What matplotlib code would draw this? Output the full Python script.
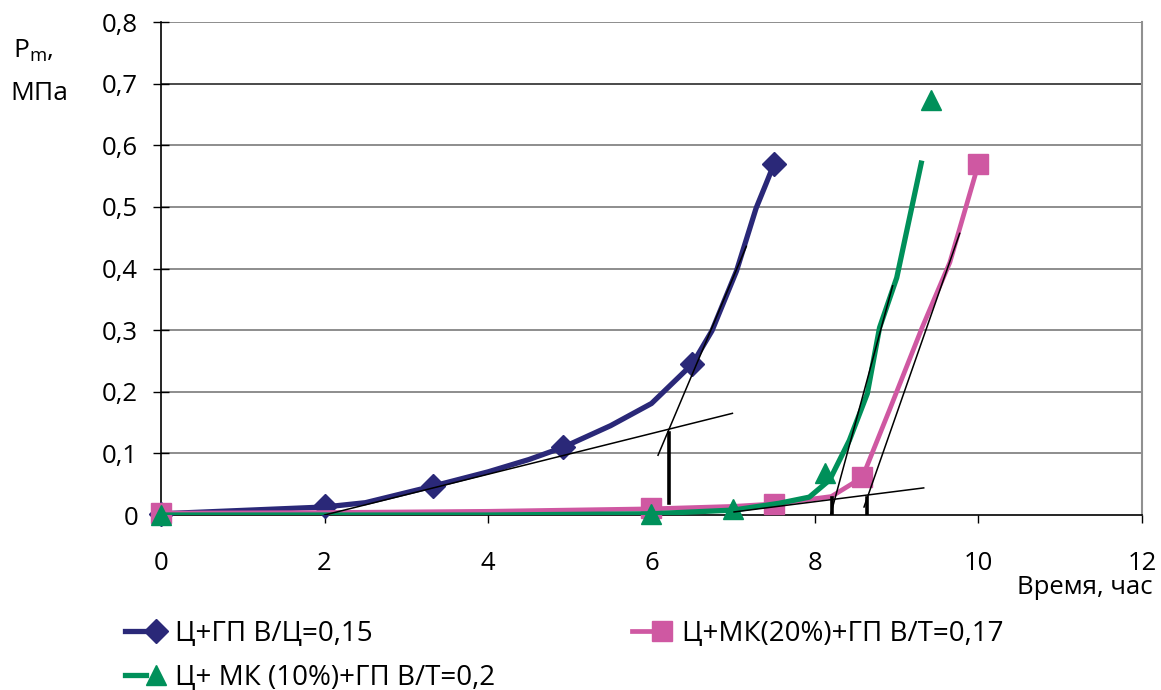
import matplotlib
matplotlib.use("Agg")
import matplotlib.pyplot as plt
from matplotlib.legend_handler import HandlerTuple

plt.rcParams['font.family'] = ['Open Sans', 'DejaVu Sans']
plt.rcParams['mathtext.fontset'] = 'custom'
plt.rcParams['mathtext.rm'] = 'Open Sans'

# Ц+ГП В/Ц=0,15
blue_x = [0, 2, 2.5, 3.33, 4, 4.5, 4.92, 5.5, 6.0, 6.5, 6.74, 7.04, 7.28, 7.4, 7.5]
blue_y = [0.002, 0.013, 0.02, 0.047, 0.07, 0.09, 0.11, 0.145, 0.181, 0.245, 0.299, 0.396, 0.498, 0.537, 0.57]
blue_mx = [0, 2, 3.33, 4.92, 6.5, 7.5]
blue_my = [0.002, 0.014, 0.047, 0.11, 0.245, 0.57]

# Ц+МК(20%)+ГП В/Т=0,17
pink_x = [0, 2, 4, 6, 7, 7.5, 8.2, 8.58, 8.91, 9.31, 9.65, 10.0]
pink_y = [0.003, 0.004, 0.006, 0.01, 0.014, 0.018, 0.03, 0.061, 0.17, 0.304, 0.41, 0.57]
pink_mx = [0, 6, 7.5, 8.57, 10]
pink_my = [0.003, 0.011, 0.018, 0.061, 0.57]

# Ц+ МК (10%)+ГП В/Т=0,2
green_x = [0, 4, 6, 7, 7.56, 7.93, 8.18, 8.42, 8.64, 8.79, 9.0, 9.3]
green_y = [0, 0, 0.002, 0.008, 0.019, 0.029, 0.057, 0.121, 0.197, 0.304, 0.385, 0.571]
green_mx = [0, 6, 7, 8.12, 9.42]
green_my = [0.0, 0.002, 0.01, 0.068, 0.674]

# касательные
tangents = [
    ([2.0, 6.99], [0.0, 0.165]),
    ([6.08, 7.16], [0.097, 0.436]),
    ([7.01, 9.33], [0.005, 0.044]),
    ([8.19, 8.95], [0.0, 0.372]),
    ([8.6, 9.77], [0.013, 0.457]),
]
marks = [(6.22, 0.02, 0.133), (8.21, 0.0, 0.028), (8.64, 0.0, 0.028)]

labels = ["Ц+ГП В/Ц=0,15", "Ц+МК(20%)+ГП В/Т=0,17", "Ц+ МК (10%)+ГП В/Т=0,2"]
c_blue, c_pink, c_green = "#2a2878", "#cf58a2", "#00905a"

fig = plt.figure(figsize=(11.61, 6.9), dpi=100)
ax = fig.add_axes([0.1387, 0.2536, 0.9836 - 0.1387, 0.9681 - 0.2536])

for y in [0.1, 0.2, 0.3, 0.4, 0.5, 0.6, 0.7, 0.8]:
    ax.axhline(y, color="#3a3a3a" if y == 0.7 else "#858585", lw=1.3, zorder=0)

ax.plot(blue_x, blue_y, color=c_blue, lw=3.8, zorder=3, solid_joinstyle="round")
bm, = ax.plot(blue_mx, blue_my, ls="none", marker="D", ms=12, color=c_blue, zorder=3, clip_on=False)
bl, = ax.plot([], [], color=c_blue, lw=3.8)

ax.plot(pink_x, pink_y, color=c_pink, lw=3.4, zorder=4, solid_joinstyle="round")
pm, = ax.plot(pink_mx, pink_my, ls="none", marker="s", ms=14, color=c_pink, zorder=4, clip_on=False)
pl, = ax.plot([], [], color=c_pink, lw=3.4)

ax.plot(green_x, green_y, color=c_green, lw=3.8, zorder=5, solid_joinstyle="round")
gm, = ax.plot(green_mx, green_my, ls="none", marker="^", ms=14, color=c_green, zorder=5, clip_on=False)
gl, = ax.plot([], [], color=c_green, lw=3.8)

for tx, ty in tangents:
    ax.plot(tx, ty, color="black", lw=1.1, zorder=6)
for mx, y0, y1 in marks:
    ax.plot([mx, mx], [y0, y1], color="black", lw=2.6, zorder=6)

ax.set_xlim(0, 12)
ax.set_ylim(0, 0.8)
ax.set_xticks(range(0, 13, 2))
ax.set_yticks([i / 10 for i in range(9)])
ax.set_yticklabels([("%.1f" % (i / 10)).replace(".", ",") if i else "0" for i in range(9)])
ax.tick_params(axis="x", direction="out", length=6, width=1, pad=20, labelsize=18.5)
ax.tick_params(axis="y", direction="inout", length=11, width=1, pad=11, labelsize=18.5)

ax.spines["top"].set_visible(False)
ax.spines["right"].set_color("#909090")
ax.spines["right"].set_linewidth(1.5)
ax.spines["left"].set_linewidth(1.2)
ax.spines["bottom"].set_linewidth(1.2)

fig.text(0.011, 0.927, r"P$_{\mathrm{m}}$,", fontsize=19, va="center", ha="left")
fig.text(0.009, 0.865, "МПа", fontsize=19, va="center", ha="left")
fig.text(0.993, 0.149, "Время, час", fontsize=18.5, va="center", ha="right")

fig.legend([(bl, bm), (gl, gm), (pl, pm)], [labels[0], labels[2], labels[1]],
           handler_map={tuple: HandlerTuple(ndivide=None, pad=0)},
           ncol=2, loc="upper left", bbox_to_anchor=(0.108, 0.102),
           frameon=False, fontsize=20, handlelength=1.45, handletextpad=0.35,
           columnspacing=4.9, labelspacing=0.58, borderaxespad=0, borderpad=0)

fig.savefig("out.png", dpi=100)
